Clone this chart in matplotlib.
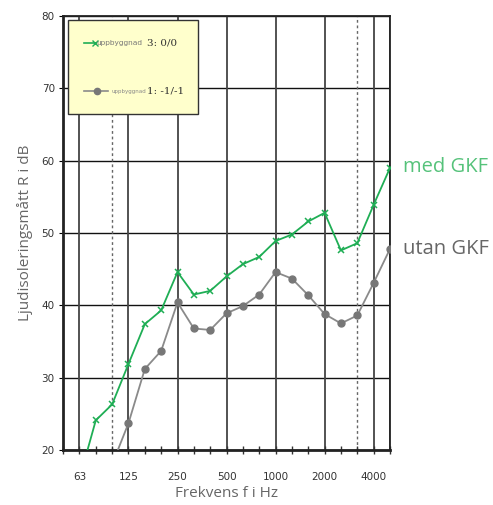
import matplotlib.pyplot as plt
from matplotlib.patches import Rectangle
import numpy as np

# third-octave bands, 50 Hz .. 5000 Hz
bands = [50, 63, 80, 100, 125, 160, 200, 250, 315, 400, 500, 630,
         800, 1000, 1250, 1600, 2000, 2500, 3150, 4000, 5000]
tick_labels = ["63", "125", "250", "500", "1000", "2000", "4000"]
dashed_bands = [100, 3150]

# med GKF (uppbyggnad 3)
med_gkf = [np.nan, 16.0, 24.1, 26.3, 31.9, 37.4, 39.3, 44.6, 41.5, 42.0, 44.0,
           45.7, 46.7, 48.9, 49.8, 51.6, 52.8, 47.6, 48.6, 53.9, 59.0]
# utan GKF (uppbyggnad 1)
utan_gkf = [np.nan, np.nan, np.nan, 18.0, 23.7, 31.2, 33.7, 40.4, 36.8, 36.6, 38.9,
            39.9, 41.5, 44.6, 43.7, 41.4, 38.8, 37.5, 38.6, 43.1, 47.8]

green = "#1fae55"
grey = "#8a8a8a"

fig = plt.figure(figsize=(4.93, 5.05), dpi=100)
ax = fig.add_axes([0.128, 0.109, 0.663, 0.859])

idx = np.arange(len(bands))

# grid
for v in range(20, 81, 10):
    ax.axhline(v, color="#111111", lw=1.0, zorder=1)
for lab in tick_labels + ["5000"]:
    ax.axvline(bands.index(int(lab)), color="#444444", lw=1.3, zorder=1)
for b in dashed_bands:
    ax.axvline(bands.index(b), color="#666666", lw=1.0, ls=(0, (2, 2)), zorder=1)

ax.plot(idx, med_gkf, color=green, lw=1.3, marker="x", ms=5, mew=1.1, zorder=3)
ax.plot(idx, utan_gkf, color=grey, lw=1.3, marker="o", ms=5, mfc="#777777",
        mec="#777777", zorder=3)

ax.set_xlim(0, 20)
ax.set_ylim(20, 80)
ax.set_yticks(range(20, 81, 10))
ax.set_xticks([bands.index(int(t)) for t in tick_labels])
ax.set_xticklabels(tick_labels)
ax.set_xticks(idx, minor=True)
ax.tick_params(axis="x", which="both", direction="inout", length=6, width=1,
               color="#333333")
ax.tick_params(axis="x", which="major", pad=13, labelsize=7.5, labelcolor="#333333")
ax.tick_params(axis="y", length=3, labelsize=7.5, labelcolor="#333333", pad=3)
for s in ax.spines.values():
    s.set_color("#222222")
    s.set_linewidth(1.3)
ax.spines["left"].set_linewidth(2)
ax.spines["bottom"].set_linewidth(2)

ax.set_xlabel("Frekvens f i Hz", family="Open Sans", fontsize=11, color="#666666",
              labelpad=3)
ax.set_ylabel("Ljudisoleringsmått R i dB", family="Open Sans", fontsize=11,
              color="#666666", labelpad=6)

# legend box
ax.add_patch(Rectangle((0.015, 0.774), 0.398, 0.217, transform=ax.transAxes,
                       facecolor="#ffffcc", edgecolor="#333333", lw=1, zorder=5))
ax.plot([0.064, 0.098], [0.938, 0.938], transform=ax.transAxes, color=green, lw=1.2,
        marker="x", markevery=[1], ms=4, zorder=6)
ax.text(0.103, 0.938, "uppbyggnad", transform=ax.transAxes, fontsize=5.3,
        color="#777777", va="center", zorder=6)
ax.text(0.256, 0.938, "3: 0/0", transform=ax.transAxes, fontsize=7.5,
        family="DejaVu Serif", color="#333333", va="center", zorder=6)
ax.plot([0.064, 0.138], [0.827, 0.827], transform=ax.transAxes, color=grey, lw=1.2,
        zorder=6)
ax.plot([0.104], [0.827], transform=ax.transAxes, marker="o", ms=4.5,
        color="#777777", zorder=6)
ax.text(0.147, 0.827, "uppbyggnad", transform=ax.transAxes, fontsize=4,
        color="#888888", va="center", zorder=6)
ax.text(0.257, 0.827, "1: -1/-1", transform=ax.transAxes, fontsize=7.5,
        family="DejaVu Serif", color="#333333", va="center", zorder=6)

# series labels at the right
ax.text(20.8, med_gkf[-1] + 0.1, "med GKF", fontsize=14.5, family="Open Sans",
        color="#55c27a", va="center", clip_on=False)
ax.text(20.8, utan_gkf[-1], "utan GKF", fontsize=14.5, family="Open Sans",
        color="#666666", va="center", clip_on=False)

fig.savefig("out.png", dpi=100)
